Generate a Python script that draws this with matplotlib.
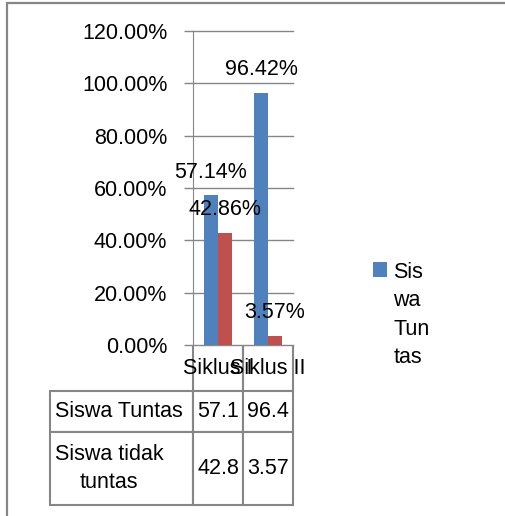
import matplotlib
matplotlib.use("Agg")
import matplotlib.pyplot as plt
from matplotlib.patches import Rectangle

plt.rcParams['font.family'] = ['Liberation Sans', 'DejaVu Sans']

categories = ["Siklus I", "Siklus II"]
siswa_tuntas = [0.5714, 0.9642]
siswa_tidak = [0.4286, 0.0357]
label_tuntas = ["57.14%", "96.42%"]
label_tidak = ["42.86%", "3.57%"]
series_names = ["Siswa Tuntas", "Siswa tidak\ntuntas"]
table_tuntas = ["57.1", "96.4"]
table_tidak = ["42.8", "3.57"]
yticks = [0, 0.2, 0.4, 0.6, 0.8, 1.0, 1.2]

BLUE = "#4F81BD"
RED = "#C0504D"
GRAY = "#868686"
FS = 15.5

fig = plt.figure(figsize=(5.05, 5.16), dpi=100)
W, H = 505, 516
ax = fig.add_axes([193 / W, 1 - 345 / H, 100 / W, 314 / H])

# outer chart border (cut off at right / bottom)
fig.patches.append(Rectangle((7 / W, -0.2), 2, 1.2 - 3 / H, transform=fig.transFigure,
                             fill=False, edgecolor=GRAY, lw=1.6))

x = list(range(len(categories)))
bw = 0.28
b1 = ax.bar([i - bw / 2 for i in x], siswa_tuntas, bw, color=BLUE, label="Sis\nwa\nTun\ntas")
b2 = ax.bar([i + bw / 2 for i in x], siswa_tidak, bw, color=RED, label=series_names[1])
ax.bar_label(b1, labels=label_tuntas, padding=9, fontsize=FS)
ax.bar_label(b2, labels=label_tidak, padding=9, fontsize=FS)

ax.set_xlim(-0.5, 1.5)
ax.set_ylim(0, 1.2)
ax.set_yticks(yticks)
ax.set_yticklabels([f"{v * 100:.2f}%" for v in yticks], fontsize=FS)
ax.tick_params(axis='y', length=6.5, width=1, color=GRAY, pad=12)
ax.set_xticks([])
ax.grid(axis='y', color=GRAY, lw=1)
ax.set_axisbelow(True)
for s in ["top", "right", "bottom"]:
    ax.spines[s].set_visible(False)
ax.spines["left"].set_color(GRAY)
for gl in ax.get_ygridlines():
    gl.set_clip_on(False)

# data table under the axis
cells = [[""] + categories,
         [series_names[0]] + table_tuntas,
         [series_names[1]] + table_tidak]
col_w = [143, 50, 50]
row_h = [46, 41, 73]
tbl = ax.table(cellText=cells, cellLoc='center',
               bbox=[-1.43, -160 / 314, 2.43, 160 / 314])
tbl.auto_set_font_size(False)
tbl.set_fontsize(FS)
for (r, c), cell in tbl.get_celld().items():
    cell.set_width(col_w[c])
    cell.set_height(row_h[r])
    cell.set_edgecolor(GRAY)
    cell.set_linewidth(1.5)
    cell.get_text().set_fontsize(FS)
    if c == 0:
        cell.PAD = 0.035
        cell.get_text().set_ha('left')
        cell.get_text().set_multialignment('center')
        cell.get_text().set_linespacing(1.45)
    if r == 0 and c == 0:
        cell.visible_edges = ""
    elif r == 0:
        cell.visible_edges = "LRB"

leg = ax.legend(handles=[b1], loc='upper left', bbox_to_anchor=(1.80, 0.264), frameon=False,
                fontsize=FS, borderpad=0, borderaxespad=0, handlelength=0.65, handleheight=0.7,
                handletextpad=0.3, labelspacing=0)
for t in leg.get_texts():
    t.set_linespacing(1.45)
# put the square next to the first line of the wrapped label
for col in leg._legend_handle_box.get_children():
    for row in col.get_children():
        row.align = "top"

fig.savefig("out.png", dpi=100)
